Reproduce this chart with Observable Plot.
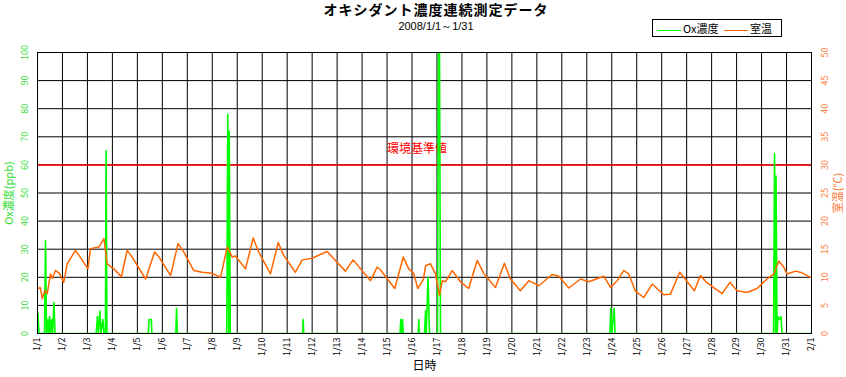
<!DOCTYPE html>
<html><head><meta charset="utf-8">
<script src="https://cdn.jsdelivr.net/npm/d3@7"></script>
<script src="https://cdn.jsdelivr.net/npm/@observablehq/plot@0.6"></script>
<style>
body{margin:0;background:#fff;font-family:"Noto Sans CJK JP","Noto Sans",sans-serif;}
#wrap{position:relative;width:846px;height:377px;overflow:hidden;}
#chart{position:absolute;left:0;top:0;}
#title{position:absolute;left:13px;width:846px;top:1px;text-align:center;font-weight:bold;font-size:14px;letter-spacing:1px;line-height:16px;color:#000;}
#sub{position:absolute;left:13px;width:846px;top:21px;text-align:center;font-family:"Liberation Sans","DejaVu Sans",sans-serif;font-size:11px;line-height:11px;color:#000;}
#legend{position:absolute;left:652px;top:19px;width:130px;height:18px;border:1px solid #000;font-size:11px;line-height:16px;box-sizing:border-box;background:#fff;}
#legend span.sw{display:inline-block;width:24px;height:0;border-top:1px solid;vertical-align:middle;margin:0 2px 0 4px;}
svg [aria-label="x-axis label"]{font-size:12px;}
svg [aria-label="y-axis label"]{font-size:11px;}
</style>
</head><body>
<div id="wrap">
<div id="chart"></div>
<div id="title">オキシダント濃度連続測定データ</div>
<div id="sub">2008/1/1～1/31</div>
<div id="legend"><span class="sw" style="border-color:#00ff00"></span>Ox濃度 <span class="sw" style="border-color:#ff6600;margin-left:3px"></span>室温</div>
</div>
<script>
// x tick labels (day index 0..31)
const dayLabels = ["1/1","1/2","1/3","1/4","1/5","1/6","1/7","1/8","1/9","1/10","1/11","1/12","1/13","1/14","1/15","1/16","1/17","1/18","1/19","1/20","1/21","1/22","1/23","1/24","1/25","1/26","1/27","1/28","1/29","1/30","1/31","2/1"];
const yTicks = [0,10,20,30,40,50,60,70,80,90,100];
const envStd = 60;            // 環境基準値 (ppb)
const envStdLabelDay = 15.2;  // where the label sits along the time axis
const tempFactor = 2;         // right axis: 0-50 ℃ ↔ left 0-100 ppb

// 室温 (℃), time in days since 1/1 00:00
const tempDay = [0.03,0.11,0.19,0.29,0.39,0.52,0.59,0.72,0.88,1.05,1.19,1.52,1.65,2.02,2.12,2.46,2.66,2.79,3.06,3.36,3.59,3.79,4.33,4.69,4.87,5.33,5.63,5.86,6.26,6.59,6.99,7.33,7.60,7.80,7.93,8.33,8.64,8.86,9.33,9.64,9.86,10.33,10.60,11.00,11.60,12.33,12.64,13.34,13.60,13.74,14.31,14.65,14.87,15.07,15.23,15.45,15.55,15.74,15.94,16.10,16.21,16.34,16.61,16.94,17.27,17.61,17.87,18.34,18.70,18.94,19.34,19.68,20.08,20.61,20.88,21.28,21.75,22.08,22.68,22.95,23.22,23.48,23.68,23.94,24.28,24.62,25.08,25.35,25.72,25.88,26.31,26.55,26.82,27.42,27.73,28.02,28.42,28.82,29.22,29.49,29.69,29.89,30.02,30.36,30.62,30.96];
const tempVal = [8.0,8.2,6.2,7.6,7.1,10.6,9.8,11.2,10.7,9.1,12.4,14.8,14.0,11.5,15.1,15.4,16.9,12.4,11.5,10.1,14.8,13.6,9.7,14.5,13.6,10.3,16.0,14.5,11.2,10.9,10.7,10.0,15.4,13.6,13.8,11.5,17.0,14.5,10.6,16.2,13.9,10.9,13.1,13.4,14.6,11.1,13.1,9.4,11.8,11.3,8.0,13.6,11.5,10.7,8.0,9.6,12.1,12.4,10.6,6.8,9.4,9.2,11.2,9.2,8.0,13.0,10.7,8.2,12.5,9.7,7.6,9.4,8.5,10.5,10.2,8.1,9.7,9.2,10.2,8.2,9.4,11.2,10.6,7.6,6.4,8.8,6.9,7.0,10.9,10.0,7.6,10.3,9.0,7.1,9.1,7.6,7.3,8.0,9.7,10.6,12.9,11.8,10.6,11.1,10.8,10.0];

// Ox濃度 (ppb), time in days since 1/1 00:00
const oxDay = [0,0.02,0.06,0.28,0.32,0.36,0.40,0.44,0.48,0.52,0.56,0.60,0.66,0.70,2.35,2.40,2.44,2.50,2.54,2.62,2.66,2.72,2.75,2.78,4.44,4.47,4.56,4.58,5.54,5.57,5.60,7.58,7.62,7.66,7.68,7.72,10.62,10.64,10.66,14.52,14.55,14.58,14.62,14.65,15.25,15.27,15.29,15.50,15.54,15.57,15.64,15.70,16.02,16.06,16.10,16.14,22.93,22.96,23.00,23.10,23.13,29.48,29.52,29.56,29.58,29.62,29.66,29.72,29.78,29.82,31];
const oxVal = [0,7,0,0,33,0,5,0,6,0,5,0,11,0,0,6,0,8,0,5,0,0,65,0,0,5,5,0,0,9,0,0,78,0,72,0,0,5,0,0,5,0,5,0,0,5,0,0,8,0,20,0,0,105,105,0,0,9,0,9,0,0,64,0,56,0,6,5,6,0,0];

const temp = tempDay.map((d, i) => ({d, v: tempVal[i]}));
const ox = oxDay.map((d, i) => ({d, v: oxVal[i]}));

const font = '"Noto Sans CJK JP","Noto Sans",sans-serif';
const chart = Plot.plot({
  width: 846, height: 377,
  marginLeft: 37, marginRight: 35, marginTop: 52, marginBottom: 44,
  style: {fontFamily: font, fontSize: "9px", background: "white", color: "black"},
  x: {domain: [0, dayLabels.length - 1]},
  y: {domain: [0, 100]},
  marks: [
    Plot.gridX(d3.range(1, dayLabels.length - 1), {stroke: "black", strokeOpacity: 1, strokeWidth: 1}),
    Plot.gridY(yTicks.slice(1, -1), {stroke: "black", strokeOpacity: 1, strokeWidth: 1}),
    Plot.ruleY([envStd], {stroke: "#ff0000", strokeWidth: 1.5}),
    Plot.text([envStd], {x: () => envStdLabelDay, y: d => d, text: () => "環境基準値", dy: -16, fill: "#ff0000", fontSize: 12}),
    Plot.line(ox, {x: "d", y: "v", stroke: "#00ff00", strokeWidth: 1.6, clip: true}),
    Plot.line(temp, {x: "d", y: d => d.v * tempFactor, stroke: "#ff6600", strokeWidth: 1.5}),
    Plot.frame({stroke: "black", strokeWidth: 1}),
    Plot.axisX(d3.range(0, dayLabels.length), {
      tickSize: 0, tickPadding: 4, tickRotate: -90, textAnchor: "end", lineAnchor: "middle",
      tickFormat: i => dayLabels[i], fill: "black",
      label: "日時", labelAnchor: "center", labelOffset: 36, labelArrow: "none"
    }),
    Plot.axisY(yTicks, {
      anchor: "left", tickSize: 0, tickPadding: 10, tickRotate: -90, textAnchor: "middle", lineAnchor: "bottom",
      fill: "#33dd33", label: "Ox濃度(ppb)", labelAnchor: "center", labelOffset: 32, labelArrow: "none"
    }),
    Plot.axisY(yTicks, {
      anchor: "right", tickSize: 0, tickPadding: 10, tickRotate: -90, textAnchor: "middle", lineAnchor: "top",
      tickFormat: d => d / tempFactor,
      fill: "#ff7733", label: "室温(℃)", labelAnchor: "center", labelOffset: 30, labelArrow: "none"
    })
  ]
});
document.getElementById("chart").appendChild(chart);
</script>
</body></html>
